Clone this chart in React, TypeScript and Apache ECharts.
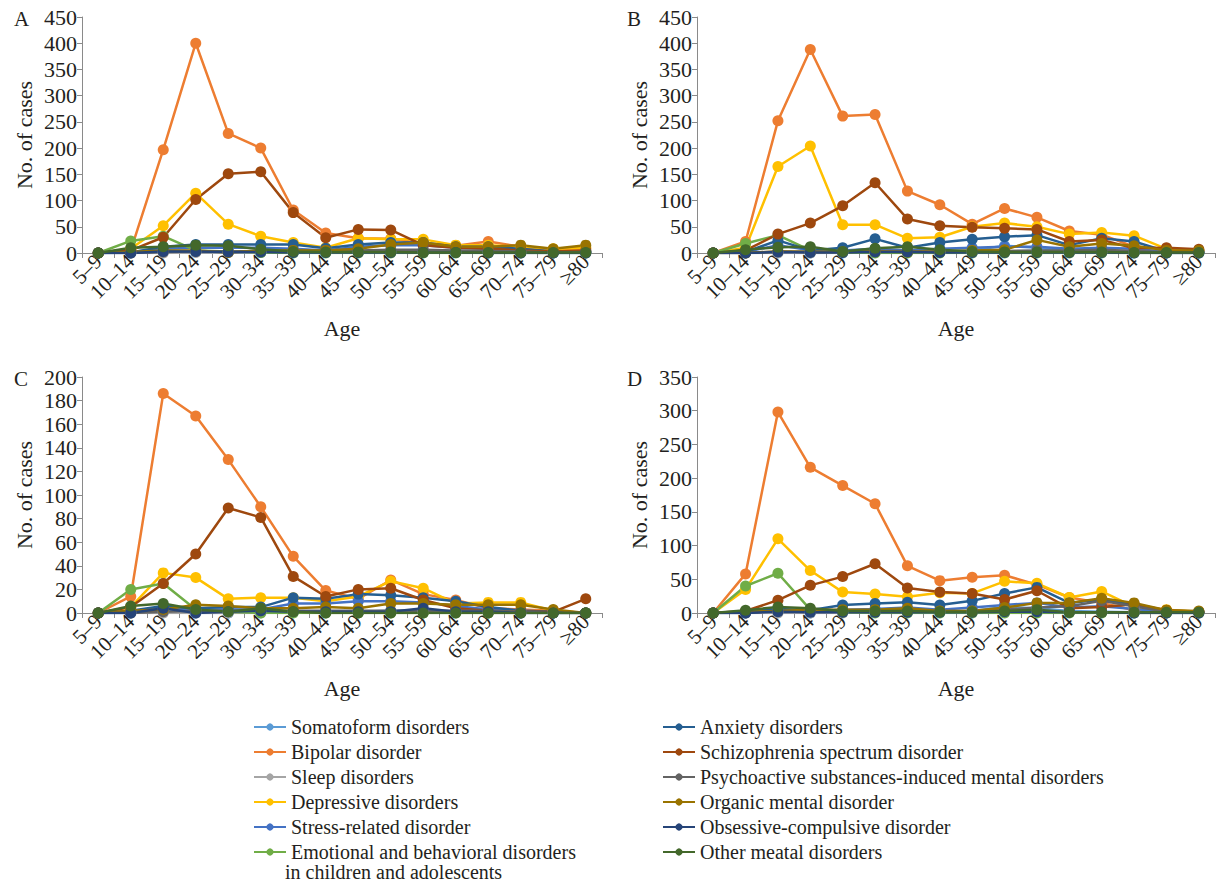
import React, { useEffect, useRef } from "react";
import * as echarts from "echarts";

const ageGroups = ["5–9", "10–14", "15–19", "20–24", "25–29", "30–34", "35–39", "40–44", "45–49", "50–54", "55–59", "60–64", "65–69", "70–74", "75–79", "≥80"];

const seriesNames = [
  "Somatoform disorders",
  "Bipolar disorder",
  "Sleep disorders",
  "Depressive disorders",
  "Stress-related disorder",
  "Emotional and behavioral disorders in children and adolescents",
  "Anxiety disorders",
  "Schizophrenia spectrum disorder",
  "Psychoactive substances-induced mental disorders",
  "Organic mental disorder",
  "Obsessive-compulsive disorder",
  "Other meatal disorders",
];

const seriesColors = ["#5B9BD5", "#ED7D31", "#A5A5A5", "#FFC000", "#4472C4", "#70AD47", "#255E91", "#9E480E", "#636363", "#997300", "#264478", "#43682B"];

const leftLegendNames = seriesNames.slice(0, 6);
const rightLegendNames = seriesNames.slice(6);

const panelLabels = ["A", "B", "C", "D"];
const panelMax = [450, 450, 200, 350];
const panelInterval = [50, 50, 20, 50];

// rows follow seriesNames order
const panelA = [
  [0, 0, 2, 2, 1, 1, 1, 2, 2, 3, 3, 2, 2, 1, 0, 0],
  [0, 5, 197, 400, 228, 200, 82, 38, 28, 27, 18, 14, 22, 12, 5, 8],
  [0, 0, 0, 1, 1, 1, 1, 1, 1, 1, 1, 1, 1, 0, 0, 0],
  [0, 8, 52, 114, 55, 32, 20, 10, 28, 26, 26, 15, 15, 12, 8, 10],
  [0, 2, 8, 10, 10, 10, 8, 5, 12, 15, 15, 10, 8, 5, 2, 3],
  [0, 23, 32, 5, 3, 1, 0, 0, 0, 0, 0, 0, 0, 0, 0, 0],
  [0, 1, 12, 16, 16, 16, 16, 9, 16, 20, 20, 12, 12, 8, 3, 3],
  [0, 5, 30, 102, 151, 155, 77, 29, 45, 44, 15, 10, 8, 5, 3, 5],
  [0, 0, 2, 3, 3, 4, 5, 5, 5, 6, 6, 5, 4, 3, 1, 2],
  [0, 2, 5, 5, 1, 5, 5, 5, 8, 16, 20, 12, 12, 15, 8, 15],
  [0, 0, 3, 3, 2, 2, 1, 1, 1, 1, 1, 1, 0, 0, 0, 0],
  [0, 10, 12, 15, 14, 7, 3, 2, 2, 2, 1, 1, 1, 1, 1, 1],
];

const panelB = [
  [0, 0, 1, 0, 0, 1, 2, 3, 5, 14, 10, 3, 2, 1, 0, 0],
  [0, 22, 252, 388, 261, 264, 118, 92, 55, 85, 68, 42, 35, 12, 8, 5],
  [0, 0, 0, 0, 1, 1, 1, 1, 1, 2, 2, 1, 1, 1, 0, 0],
  [0, 10, 165, 204, 54, 54, 28, 30, 50, 57, 50, 36, 39, 33, 8, 5],
  [0, 2, 15, 5, 5, 8, 5, 8, 10, 12, 12, 8, 10, 8, 2, 2],
  [0, 18, 34, 5, 1, 0, 0, 0, 0, 0, 0, 0, 0, 0, 0, 0],
  [0, 2, 24, 5, 10, 27, 10, 20, 26, 31, 34, 15, 28, 22, 3, 2],
  [0, 5, 36, 57, 90, 134, 65, 52, 49, 47, 45, 22, 25, 9, 10, 7],
  [0, 0, 3, 3, 3, 4, 4, 3, 3, 4, 5, 5, 6, 4, 2, 2],
  [0, 0, 3, 2, 2, 3, 2, 3, 5, 6, 25, 12, 18, 14, 5, 5],
  [0, 0, 2, 1, 1, 2, 2, 1, 1, 1, 1, 1, 1, 0, 0, 0],
  [0, 6, 11, 12, 3, 9, 12, 6, 3, 2, 2, 2, 2, 1, 1, 1],
];

const panelC = [
  [0, 0, 1, 0, 0, 1, 1, 1, 1, 2, 2, 1, 1, 0, 0, 0],
  [0, 14, 186, 167, 130, 90, 48, 19, 12, 28, 16, 11, 4, 3, 2, 0],
  [0, 0, 0, 0, 0, 0, 1, 1, 1, 1, 1, 1, 0, 0, 0, 0],
  [0, 5, 34, 30, 12, 13, 13, 10, 14, 27, 21, 8, 9, 9, 2, 0],
  [0, 1, 4, 3, 3, 3, 8, 8, 10, 10, 9, 6, 3, 2, 1, 0],
  [0, 20, 25, 3, 1, 0, 0, 0, 0, 0, 0, 0, 0, 0, 0, 0],
  [0, 2, 6, 4, 5, 5, 13, 12, 16, 15, 13, 10, 5, 2, 1, 0],
  [0, 5, 25, 50, 89, 81, 31, 14, 20, 21, 11, 4, 2, 1, 1, 12],
  [0, 0, 1, 2, 2, 2, 2, 2, 2, 2, 2, 2, 2, 1, 0, 0],
  [0, 2, 3, 7, 6, 4, 4, 5, 4, 8, 8, 7, 7, 7, 3, 0],
  [0, 0, 4, 0, 1, 2, 1, 1, 1, 1, 4, 1, 1, 0, 0, 0],
  [0, 6, 8, 3, 1, 4, 1, 0, 0, 0, 0, 0, 0, 0, 0, 0],
];

const panelD = [
  [0, 0, 1, 0, 1, 1, 2, 2, 3, 9, 7, 3, 2, 1, 0, 0],
  [0, 58, 298, 216, 189, 162, 70, 48, 53, 56, 42, 23, 15, 4, 2, 2],
  [0, 0, 0, 0, 0, 1, 1, 1, 1, 1, 1, 1, 1, 0, 0, 0],
  [0, 35, 110, 63, 31, 28, 24, 30, 29, 47, 44, 23, 32, 9, 5, 2],
  [0, 1, 5, 3, 5, 6, 8, 5, 8, 12, 15, 8, 10, 6, 2, 1],
  [0, 40, 59, 5, 1, 0, 0, 0, 0, 0, 0, 0, 0, 0, 0, 0],
  [0, 2, 6, 4, 12, 14, 16, 12, 18, 29, 38, 15, 20, 12, 3, 2],
  [0, 3, 19, 41, 54, 73, 37, 31, 29, 20, 33, 7, 9, 13, 4, 2],
  [0, 0, 3, 3, 3, 4, 4, 3, 3, 5, 8, 10, 18, 10, 2, 1],
  [0, 2, 3, 5, 5, 5, 7, 3, 3, 8, 15, 15, 22, 15, 4, 3],
  [0, 0, 2, 1, 1, 1, 1, 1, 1, 2, 2, 1, 1, 0, 0, 0],
  [0, 4, 9, 7, 3, 3, 3, 2, 2, 3, 5, 1, 1, 1, 1, 1],
];

const panels = [panelA, panelB, panelC, panelD];

const FONT = "'Liberation Serif', 'Times New Roman', serif";
const TEXT = "#231f20";
const AXIS = "#8a8a8a";

export default function App() {
  const ref = useRef<HTMLDivElement>(null);

  useEffect(() => {
    if (!ref.current) return;
    const chart = echarts.init(ref.current, undefined, { renderer: "svg" });

    const grids = [
      { left: 82, top: 17, width: 520, height: 236 },
      { left: 697, top: 17, width: 518, height: 236 },
      { left: 82, top: 377, width: 520, height: 236 },
      { left: 697, top: 377, width: 518, height: 236 },
    ];

    const xAxes = grids.map((_, i) => ({
      type: "category",
      gridIndex: i,
      data: ageGroups,
      boundaryGap: true,
      name: "Age",
      nameLocation: "middle",
      nameGap: 64,
      nameTextStyle: { fontFamily: FONT, fontSize: 22, color: TEXT },
      axisLine: { show: true, lineStyle: { color: AXIS, width: 1 } },
      axisTick: { show: true, length: 5, lineStyle: { color: AXIS } },
      axisLabel: { interval: 0, rotate: 45, fontFamily: FONT, fontSize: 21, color: TEXT, margin: 5 },
      splitLine: { show: false },
    }));

    const yAxes = grids.map((_, i) => ({
      type: "value",
      gridIndex: i,
      min: 0,
      max: panelMax[i],
      interval: panelInterval[i],
      name: "No. of cases",
      nameLocation: "middle",
      nameGap: 47,
      nameTextStyle: { fontFamily: FONT, fontSize: 22, color: TEXT },
      axisLine: { show: true, lineStyle: { color: AXIS, width: 1 } },
      axisTick: { show: true, length: 5, lineStyle: { color: AXIS } },
      axisLabel: { fontFamily: FONT, fontSize: 22, color: TEXT, margin: 5 },
      splitLine: { show: false },
    }));

    const series: any[] = [];
    panels.forEach((rows, p) => {
      rows.forEach((vals, s) => {
        series.push({
          type: "line",
          name: seriesNames[s],
          xAxisIndex: p,
          yAxisIndex: p,
          data: vals,
          symbol: "circle",
          symbolSize: 11,
          showSymbol: true,
          color: seriesColors[s],
          lineStyle: { width: 2.5, color: seriesColors[s] },
          itemStyle: { color: seriesColors[s] },
        });
      });
    });

    const legendCommon = {
      orient: "vertical",
      itemWidth: 32,
      itemHeight: 9,
      itemGap: 5,
      textStyle: { fontFamily: FONT, fontSize: 20, color: TEXT, lineHeight: 20 },
      selectedMode: false,
    };

    const graphics: any[] = panelLabels.map((t, i) => ({
      type: "text",
      left: i % 2 === 0 ? 14 : 627,
      top: i < 2 ? 8 : 368,
      style: { text: t, fontFamily: FONT, fontSize: 21, fill: TEXT },
    }));
    graphics.push({
      type: "text",
      left: 285,
      top: 862,
      style: { text: "in children and adolescents", fontFamily: FONT, fontSize: 20, fill: TEXT },
    });

    chart.setOption({
      animation: false,
      backgroundColor: "#ffffff",
      grid: grids,
      xAxis: xAxes,
      yAxis: yAxes,
      legend: [
        {
          ...legendCommon,
          left: 248,
          top: 712,
          data: leftLegendNames,
          formatter: (name: string) =>
            name.startsWith("Emotional") ? "Emotional and behavioral disorders" : name,
        },
        {
          ...legendCommon,
          left: 657,
          top: 712,
          data: rightLegendNames,
        },
      ],
      graphic: graphics,
      series,
    });

    return () => chart.dispose();
  }, []);

  return (
    <div
      ref={ref}
      style={{ position: "fixed", left: 0, top: 0, width: 1219, height: 883, background: "#fff" }}
    />
  );
}
